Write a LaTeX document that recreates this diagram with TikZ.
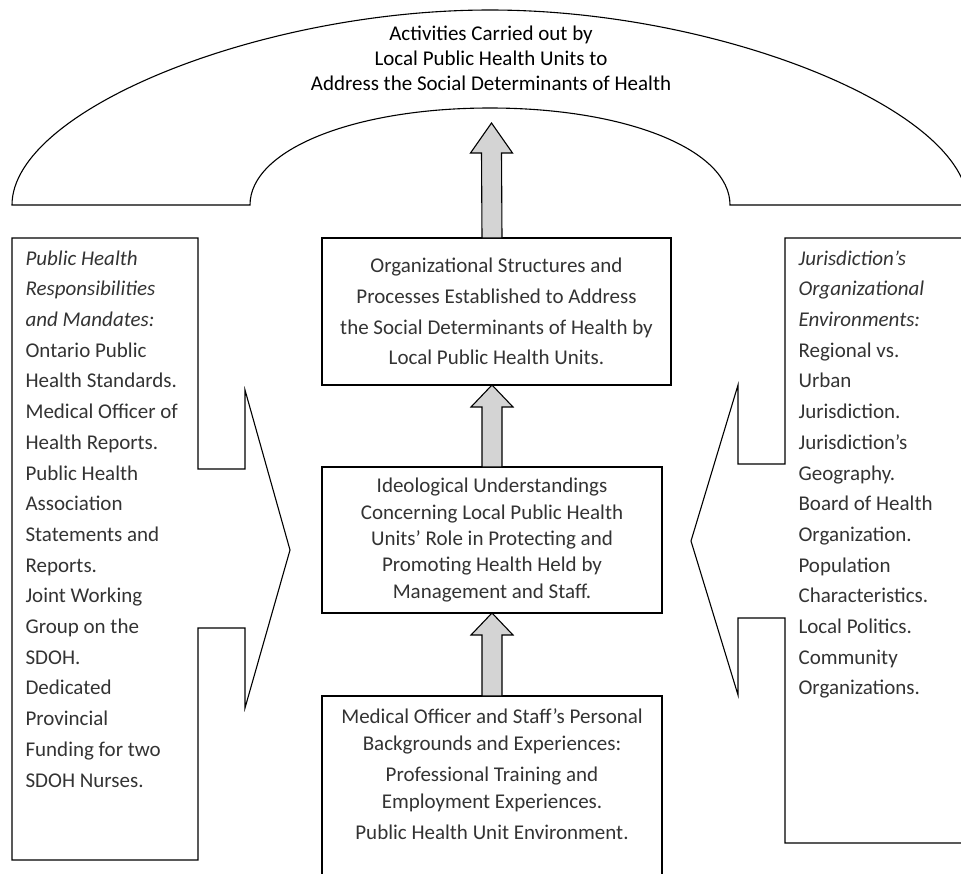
\documentclass[tikz,border=0pt]{standalone}
\usepackage{fontspec}
\setmainfont{Carlito}
\usetikzlibrary{positioning,calc}

\newcommand{\liftarrow}[3]{%
	\draw[lift] ($(#1)+(-10,0)$) -- ($(#2)+(-10,-#3)$) -- ($(#2)+(-21,-#3)$) -- (#2)
		-- ($(#2)+(21,-#3)$) -- ($(#2)+(10,-#3)$) -- ($(#1)+(10,0)$) -- cycle;}

\begin{document}
\begin{tikzpicture}[x=1pt, y=1pt, line width=1.1pt,
	stage/.style={draw, align=center, inner sep=0pt, outer sep=0pt, text=black!80, font=\fontsize{21}{30.7}\selectfont},
	side/.style={align=left, inner sep=0pt, anchor=north west, text=black!80, font=\fontsize{21}{30.7}\selectfont},
	lift/.style={draw, fill=black!17, line join=miter}]

	\useasboundingbox (0,0) rectangle (961,-873);

	\draw (12,-205) .. controls (12,-110) and (260,-10) .. (490,-10)
		.. controls (720,-10) and (968,-110) .. (968,-205) -- (730,-205)
		.. controls (730,-150) and (627,-108) .. (490,-108)
		.. controls (353,-108) and (250,-150) .. (250,-205) -- cycle;
	\node[align=center, font=\fontsize{21}{25}\selectfont] (act) at (491,-58)
		{Activities Carried out by\\Local Public Health Units to\\Address the Social Determinants of Health};

	\node[stage, minimum width=349pt, minimum height=147pt] (org) at (496.5,-311.5)
		{Organizational Structures and\\Processes Established to Address\\the Social Determinants of Health by\\Local Public Health Units.};
	\node[stage, minimum width=340pt, minimum height=146pt, below=82pt of org, xshift=-4.5pt,
		font=\fontsize{21}{26.3}\selectfont] (ideo)
		{Ideological Understandings\\Concerning Local Public Health\\Units’ Role in Protecting and\\Promoting Health Held by\\Management and Staff.};
	\node[stage, draw=none, minimum width=340pt, inner ysep=13pt, below=83pt of ideo,
		font=\fontsize{21}{26.5}\selectfont] (pers)
		{Medical Officer and Staff’s Personal\\Backgrounds and Experiences:\\[5pt]
		Professional Training and\\Employment Experiences.\\[5pt]Public Health Unit Environment.};
	\draw (pers.north west) ++(0,-200) -- (pers.north west) -- (pers.north east) -- ++(0,-200);

	\coordinate (peak) at (491.5,-123);
	\liftarrow{org.north -| ideo.north}{peak}{30}
	\liftarrow{ideo.north}{org.south -| ideo.north}{22}
	\liftarrow{pers.north}{ideo.south}{22}

	\node[side] (duty) at (25,-250) {\textit{Public Health}\\\textit{Responsibilities}\\\textit{and Mandates:}\\
		Ontario Public\\Health Standards.\\Medical Officer of\\Health Reports.\\Public Health\\Association\\
		Statements and\\Reports.\\Joint Working\\Group on the\\SDOH.\\Dedicated\\Provincial\\
		Funding for two\\SDOH Nurses.};
	\draw (198,-238) -- (12,-238) -- (12,-860) -- (198,-860) -- (198,-628) -- (245,-628) -- (245,-708)
		-- (290,-550) -- (245,-390) -- (245,-469) -- (198,-469) -- cycle;

	\node[side] (env) at (798,-250) {\textit{Jurisdiction’s}\\\textit{Organizational}\\\textit{Environments:}\\
		Regional vs.\\Urban\\Jurisdiction.\\Jurisdiction’s\\Geography.\\Board of Health\\Organization.\\
		Population\\Characteristics.\\Local Politics.\\Community\\Organizations.};
	\draw (975,-238) -- (785,-238) -- (785,-464) -- (738,-464) -- (738,-385) -- (691,-541) -- (738,-695)
		-- (738,-618) -- (785,-618) -- (785,-843) -- (975,-843);

\end{tikzpicture}
\end{document}
